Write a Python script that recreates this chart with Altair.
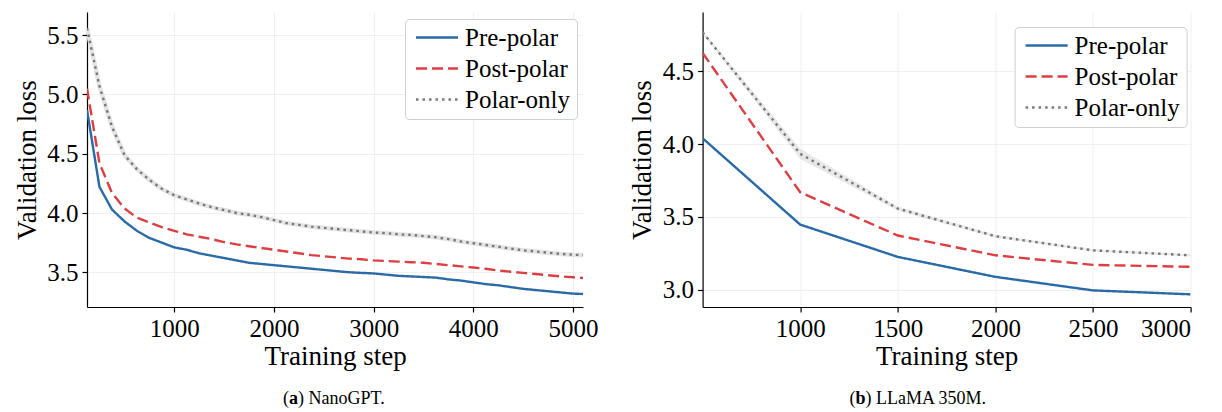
import altair as alt
import pandas as pd

FONT = "Liberation Serif"
SERIES = ["Pre-polar", "Post-polar", "Polar-only"]
COLORS = ["#2a6aa6", "#dc3f43", "#787878"]
DASHES = [[1, 0], [11, 5], [2.5, 4]]

# ---------------- (a) NanoGPT ----------------
steps_a = [125, 250, 375, 500, 625, 750, 875, 1000, 1125, 1250, 1375, 1500, 1625,
           1750, 1875, 2000, 2125, 2250, 2375, 2500, 2625, 2750, 2875, 3000, 3125,
           3250, 3375, 3500, 3625, 3750, 3875, 4000, 4125, 4250, 4375, 4500, 4625,
           4750, 4875, 5000, 5100]
pre_a = [4.87, 4.22, 4.03, 3.93, 3.85, 3.79, 3.75, 3.71, 3.69, 3.66, 3.64, 3.62, 3.60,
         3.58, 3.57, 3.56, 3.55, 3.54, 3.53, 3.52, 3.51, 3.50, 3.495, 3.49, 3.48,
         3.47, 3.465, 3.46, 3.455, 3.44, 3.43, 3.415, 3.40, 3.39, 3.375, 3.36, 3.35,
         3.34, 3.33, 3.32, 3.317]
post_a = [5.05, 4.42, 4.17, 4.04, 3.96, 3.92, 3.88, 3.85, 3.82, 3.80, 3.78, 3.755, 3.735,
          3.72, 3.705, 3.69, 3.675, 3.66, 3.645, 3.635, 3.625, 3.615, 3.61, 3.60, 3.595,
          3.59, 3.585, 3.58, 3.57, 3.56, 3.55, 3.54, 3.53, 3.515, 3.505, 3.495, 3.485,
          3.475, 3.465, 3.458, 3.452]
polar_a = [5.56, 5.07, 4.73, 4.49, 4.37, 4.28, 4.205, 4.15, 4.115, 4.08, 4.05, 4.025, 4.00,
           3.985, 3.965, 3.94, 3.915, 3.90, 3.885, 3.875, 3.865, 3.855, 3.845, 3.835, 3.83,
           3.82, 3.815, 3.805, 3.795, 3.78, 3.76, 3.745, 3.73, 3.715, 3.70, 3.685, 3.675,
           3.665, 3.655, 3.648, 3.645]

# ---------------- (b) LLaMA 350M ----------------
steps_b = [500, 1000, 1500, 2000, 2500, 3000]
pre_b = [4.04, 3.447, 3.225, 3.088, 2.995, 2.968]
post_b = [4.626, 3.669, 3.372, 3.236, 3.17, 3.157]
polar_b = [4.768, 3.933, 3.557, 3.367, 3.27, 3.236]
polar_b_std = [0.012, 0.035, 0.015, 0.01, 0.008, 0.008]

xticks_a = [1000, 2000, 3000, 4000, 5000]
yticks_a = [3.5, 4.0, 4.5, 5.0, 5.5]
xticks_b = [1000, 1500, 2000, 2500, 3000]
yticks_b = [3.0, 3.5, 4.0, 4.5]


def long_df(steps, cols):
    rows = []
    for name, vals in zip(SERIES, cols):
        for s, v in zip(steps, vals):
            rows.append({"step": s, "loss": v, "series": name})
    return pd.DataFrame(rows)


df_a = long_df(steps_a, [pre_a, post_a, polar_a])
df_b = long_df(steps_b, [pre_b, post_b, polar_b])
band_b = pd.DataFrame({
    "step": steps_b,
    "lo": [m - s for m, s in zip(polar_b, polar_b_std)],
    "hi": [m + s for m, s in zip(polar_b, polar_b_std)],
})

W_A, W_B, H = 496, 488, 295

# long horizontal legend line: path in units of sqrt(size)/2
LEG_PATH = "M-1,0H4.6"


def legend(x, y):
    return alt.Legend(
        orient="none", legendX=x, legendY=y, title=None,
        symbolType=LEG_PATH, symbolSize=225, symbolStrokeWidth=2.5,
        labelFont=FONT, labelFontSize=25, labelColor="black", labelOffset=29,
        labelLimit=400, padding=6, rowPadding=5,
        fillColor="white", strokeColor="#cfcfcf", cornerRadius=4,
    )


def caption(tag, rest, x0, y, bold_w):
    def part(txt, x, weight):
        return alt.Chart(pd.DataFrame({"t": [txt]})).mark_text(
            font=FONT, fontSize=18, fontWeight=weight, align="left",
            baseline="alphabetic", color="black"
        ).encode(text="t:N", x=alt.value(x), y=alt.value(y))
    return [part("(", x0, "normal"),
            part(tag, x0 + 6.0, "bold"),
            part(") " + rest, x0 + 6.0 + bold_w, "normal")]


def panel(df, steps_dom, y_dom, xt, yt, width, leg_xy, halo=None, band=None, cap=None):
    xenc = alt.X("step:Q", scale=alt.Scale(domain=steps_dom, nice=False, zero=False),
                 axis=alt.Axis(values=xt, format="d", title="Training step",
                               labelFont=FONT, titleFont=FONT))
    yenc = alt.Y("loss:Q", scale=alt.Scale(domain=y_dom, nice=False, zero=False),
                 axis=alt.Axis(values=yt, format=".1f", title="Validation loss",
                               labelFont=FONT, titleFont=FONT))
    layers = []
    if halo is not None:
        layers.append(alt.Chart(df).transform_filter(alt.datum.series == "Polar-only")
                      .mark_line(color="#e4e4e4", strokeWidth=4.5, clip=True)
                      .encode(x=xenc, y=yenc))
    if band is not None:
        layers.append(alt.Chart(band).mark_area(color="#b5b5b5", opacity=0.3, clip=True)
                      .encode(x=xenc, y=alt.Y("lo:Q"), y2="hi:Q"))
    leg = legend(*leg_xy)
    layers.append(alt.Chart(df).mark_line(strokeWidth=2.4, clip=True).encode(
        x=xenc, y=yenc,
        color=alt.Color("series:N", scale=alt.Scale(domain=SERIES, range=COLORS), legend=leg),
        strokeDash=alt.StrokeDash("series:N", scale=alt.Scale(domain=SERIES, range=DASHES), legend=leg),
        detail="series:N",
    ))
    if cap is not None:
        layers.extend(cap)
    return alt.layer(*layers).properties(width=width, height=H)


# caption widths at 18px (Times metrics): "(" 6.0, bold a 9.0, bold b 10.0
left = panel(df_a, [125, 5100], [3.207, 5.696], xticks_a, yticks_a, W_A, (318, 7),
             halo=True, cap=caption("a", "NanoGPT.", 196.0, 392, 9.0))
right = panel(df_b, [500, 3000], [2.881, 4.907], xticks_b, yticks_b, W_B, (312, 15),
              band=band_b, cap=caption("b", "LLaMA 350M.", 147.0, 392, 10.0))

chart = (
    alt.hconcat(left, right, spacing=119.6, bounds="flush")
    .resolve_scale(color="independent", strokeDash="independent")
    .resolve_legend(color="independent", strokeDash="independent")
    .properties(padding={"left": 5, "top": 4, "right": 5, "bottom": 5})
    .configure(font=FONT)
    .configure_view(stroke=None)
    .configure_axis(
        labelFont=FONT, titleFont=FONT, labelFontSize=25, titleFontSize=27,
        titleFontWeight="normal", labelColor="black", titleColor="black",
        domainColor="black", domainWidth=1.2, tickColor="black", tickWidth=1.2,
        tickSize=5, gridColor="#ececec", gridWidth=0.8, labelPadding=4,
    )
    .configure_axisX(titlePadding=2)
    .configure_axisY(titlePadding=5.5)
    .configure_legend(labelFont=FONT)
)

chart.save("out.html", embed_options={"renderer": "svg", "actions": False})
